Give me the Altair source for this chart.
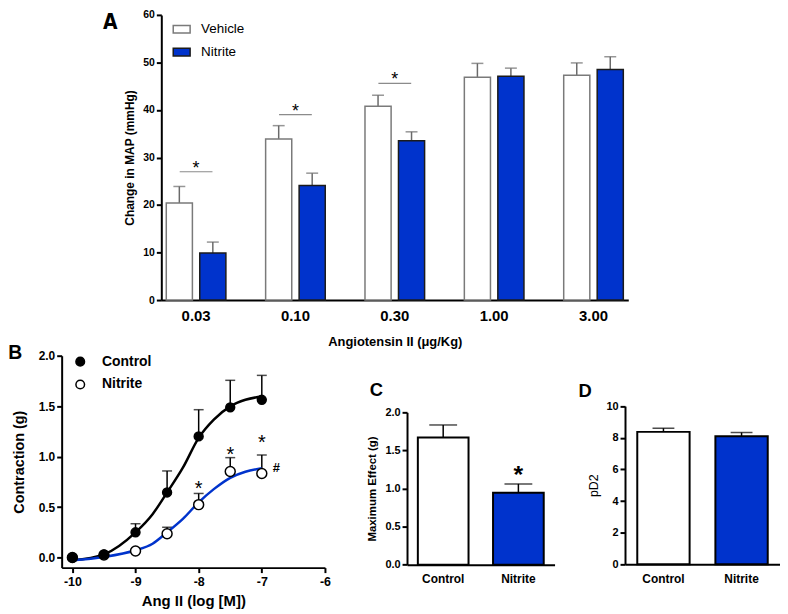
import altair as alt
import pandas as pd

FONT = "Liberation Sans, Arial, Helvetica, sans-serif"
NARROW = "Liberation Sans Narrow, DejaVu Sans Condensed, Liberation Sans, sans-serif"
BLUE = "#0033CC"

# ---------------- Panel A data ----------------
doses = ["0.03", "0.10", "0.30", "1.00", "3.00"]
groups_a = ["Vehicle", "Nitrite"]
veh_map = [20.4, 33.9, 40.8, 46.9, 47.3]
veh_sem = [3.5, 2.8, 2.3, 2.9, 2.6]
nit_map = [9.9, 24.1, 33.5, 47.1, 48.5]
nit_sem = [2.3, 2.6, 1.9, 1.7, 2.7]
sig_doses = ["0.03", "0.10", "0.30"]
sig_level = [27.0, 39.0, 45.6]

# ---------------- Panel B data ----------------
series_b = ["Control", "Nitrite"]
log_dose = [-10, -9.5, -9, -8.5, -8, -7.5, -7]
control_mean = [0.0, 0.03, 0.25, 0.645, 1.20, 1.488, 1.563]
control_sem = [0.0, 0.0, 0.085, 0.213, 0.265, 0.268, 0.242]
nitrite_mean = [0.0, 0.025, 0.065, 0.236, 0.524, 0.852, 0.832]
nitrite_sem = [0.0, 0.0, 0.0, 0.064, 0.111, 0.138, 0.184]
fit_dose = [-10, -9.5, -9, -8.73, -8.5, -8.25, -8, -7.76, -7.5, -7.26, -7]
control_fit = [-0.027, 0.032, 0.25, 0.43, 0.645, 0.89, 1.186, 1.367, 1.498, 1.563, 1.596]
nitrite_fit = [-0.027, 0.006, 0.072, 0.137, 0.25, 0.383, 0.547, 0.678, 0.79, 0.85, 0.885]
star_dose = [-8, -7.5, -7]
star_level = [0.73, 1.06, 1.186]
hash_dose = [-6.77]
hash_level = [0.89]

# ---------------- Panel C / D data ----------------
groups_cd = ["Control", "Nitrite"]
max_mean = [1.669, 0.943]
max_sem = [0.165, 0.117]
max_star_group = ["Nitrite"]
max_star_level = [1.255]
pd2_mean = [8.37, 8.10]
pd2_sem = [0.23, 0.23]


def ax(**kw):
    base = dict(labelFont=FONT, titleFont=FONT, labelFontWeight="bold",
                titleFontWeight="bold", labelColor="black", titleColor="black",
                domainColor="black", domainWidth=2, tickColor="black",
                tickWidth=2, grid=False, labelFlush=False)
    base.update(kw)
    return alt.Axis(**base)


def letter(txt, x, y, size, font=FONT, baseline="alphabetic"):
    return alt.Chart(pd.DataFrame({"t": [txt]})).mark_text(
        align="left", baseline=baseline, fontSize=size, fontWeight="bold",
        font=font, color="black").encode(x=alt.value(x), y=alt.value(y), text="t:N")


# ================= Panel A =================
a_df = pd.DataFrame({
    "dose": doses + doses,
    "group": ["Vehicle"] * 5 + ["Nitrite"] * 5,
    "mean": veh_map + nit_map,
    "sem": veh_sem + nit_sem,
})
sig_df = pd.DataFrame({"dose": sig_doses, "level": sig_level})

A_W, A_H = 570.3, 287
xA_scale = alt.Scale(range=[100.3, 570.3], paddingInner=0.4, paddingOuter=0.05)
xA_axis = ax(title="Angiotensin II (μg/Kg)", labelAngle=0, ticks=False, tickSize=0,
             labelFontSize=15, labelPadding=9, titleFontSize=13, titlePadding=12)
yA_scale = alt.Scale(domain=[0, 60], nice=False)
yA_axis = ax(values=[0, 10, 20, 30, 40, 50, 60], title="Change in MAP (mmHg)",
             offset=-100.3, tickSize=5, labelFontSize=10.5, labelPadding=2,
             titleFontSize=12, titlePadding=6)


def xA():
    return alt.X("dose:N", sort=doses, scale=xA_scale, axis=xA_axis)


def yA(field):
    return alt.Y(field, scale=yA_scale, axis=yA_axis)


xoffA = alt.XOffset("group:N", sort=groups_a,
                    scale=alt.Scale(paddingInner=0.22, paddingOuter=0))

legA = alt.Legend(title=None, orient="none", legendX=111.3, legendY=5,
                  symbolType="M-1,-0.45H1V0.45H-1Z", symbolSize=289,
                  symbolStrokeWidth=1.5, labelFont=FONT, labelFontSize=13.5,
                  labelFontWeight="normal", labelColor="black", labelOffset=10,
                  rowPadding=6, padding=0)

a_bars = alt.Chart(a_df).mark_bar(strokeWidth=1.5).encode(
    x=xA(), xOffset=xoffA, y=yA("mean:Q"),
    fill=alt.Fill("group:N", sort=groups_a,
                  scale=alt.Scale(domain=groups_a, range=["white", BLUE]), legend=legA),
    stroke=alt.Stroke("group:N", sort=groups_a,
                      scale=alt.Scale(domain=groups_a, range=["#7a7a7a", "#1b1b1b"]),
                      legend=legA),
)
a_err = alt.Chart(a_df).transform_calculate(upper="datum.mean + datum.sem").mark_rule(
    color="#6a6a6a", strokeWidth=1.5).encode(
    x=xA(), xOffset=xoffA, y=yA("mean:Q"), y2="upper:Q")
a_cap = alt.Chart(a_df).transform_calculate(upper="datum.mean + datum.sem").mark_tick(
    orient="horizontal", size=12, thickness=1.5, color="#6a6a6a").encode(
    x=xA(), xOffset=xoffA, y=yA("upper:Q"))
a_sig = alt.Chart(sig_df).mark_tick(orient="horizontal", size=33, thickness=1.2,
                                    color="#5a5a5a").encode(x=xA(), y=yA("level:Q"))
a_star = alt.Chart(sig_df).mark_text(text="*", fontSize=18, font=FONT, color="black",
                                     dy=-3).encode(x=xA(), y=yA("level:Q"))

panelA = alt.layer(a_err, a_cap, a_bars, a_sig, a_star,
                   letter("A", 41.6, -3, 21, NARROW, "top")).properties(width=A_W, height=A_H)

# ================= Panel B =================
b_df = pd.DataFrame({
    "logM": log_dose + log_dose,
    "series": ["Control"] * 7 + ["Nitrite"] * 7,
    "mean": control_mean + nitrite_mean,
    "sem": control_sem + nitrite_sem,
})
fit_df = pd.DataFrame({
    "logM": fit_dose + fit_dose,
    "series": ["Control"] * len(fit_dose) + ["Nitrite"] * len(fit_dose),
    "value": control_fit + nitrite_fit,
})
star_df = pd.DataFrame({"logM": star_dose, "level": star_level})
hash_df = pd.DataFrame({"logM": hash_dose, "level": hash_level})

B_W, B_H = 265, 213.3
xB_scale = alt.Scale(domain=[-10.17, -6], nice=False, zero=False)
xB_axis = ax(values=[-10, -9, -8, -7, -6], labelExpr="toString(datum.value)",
             title="Ang II (log [M])", tickSize=5, labelFontSize=12.5, labelPadding=3,
             titleFontSize=15, titlePadding=6)
yB_scale = alt.Scale(domain=[-0.1, 2.0], nice=False, zero=False)
yB_axis = ax(values=[0, 0.5, 1.0, 1.5, 2.0], format=".1f", title="Contraction (g)",
             tickSize=5, labelFontSize=12, labelPadding=2, titleFontSize=14.5,
             titlePadding=12)


def xB():
    return alt.X("logM:Q", scale=xB_scale, axis=xB_axis)


def yB(field):
    return alt.Y(field, scale=yB_scale, axis=yB_axis)


legB = alt.Legend(title=None, orient="none", legendX=11.7, legendY=-1,
                  symbolType="circle", symbolSize=75, symbolStrokeColor="black",
                  symbolStrokeWidth=1.5, labelFont=FONT, labelFontSize=14,
                  labelFontWeight="bold", labelColor="black", labelOffset=15,
                  rowPadding=7, padding=0)
fillB = alt.Fill("series:N", sort=series_b,
                 scale=alt.Scale(domain=series_b, range=["black", "white"]), legend=legB)

b_base = alt.Chart(b_df).transform_filter("datum.sem > 0").transform_calculate(
    upper="datum.mean + datum.sem")
b_err = b_base.mark_rule(color="black", strokeWidth=1.5).encode(
    x=xB(), y=yB("mean:Q"), y2="upper:Q")
b_cap = b_base.mark_tick(orient="horizontal", size=10, thickness=1.5,
                         color="black").encode(x=xB(), y=yB("upper:Q"))
b_fit_ctl = alt.Chart(fit_df).transform_filter("datum.series == 'Control'").mark_line(
    strokeWidth=2.5, interpolate="monotone", color="black").encode(x=xB(), y=yB("value:Q"))
b_fit_nit = alt.Chart(fit_df).transform_filter("datum.series == 'Nitrite'").mark_line(
    strokeWidth=2.5, interpolate="monotone", color=BLUE).encode(x=xB(), y=yB("value:Q"))
b_nit = alt.Chart(b_df).transform_filter("datum.series == 'Nitrite'").mark_point(
    shape="circle", filled=True, size=100, stroke="black", strokeWidth=1.5,
    opacity=1).encode(x=xB(), y=yB("mean:Q"), fill=fillB)
b_ctl = alt.Chart(b_df).transform_filter("datum.series == 'Control'").mark_point(
    shape="circle", filled=True, size=80, stroke="black", strokeWidth=1.5,
    opacity=1).encode(x=xB(), y=yB("mean:Q"), fill=fillB)
b_star = alt.Chart(star_df).mark_text(text="*", fontSize=20, font=FONT, color="black",
                                      dy=5).encode(x=xB(), y=yB("level:Q"))
b_hash = alt.Chart(hash_df).mark_text(text="#", fontSize=13, font=FONT, fontWeight="bold",
                                      color="black").encode(x=xB(), y=yB("level:Q"))

panelB = alt.layer(b_err, b_cap, b_fit_ctl, b_fit_nit, b_nit, b_ctl, b_star, b_hash,
                   letter("B", -53.7, 3, 19.5)).properties(width=B_W, height=B_H)

# ================= Panel C =================
c_df = pd.DataFrame({"group": groups_cd, "mean": max_mean, "sem": max_sem})
c_star = pd.DataFrame({"group": max_star_group, "level": max_star_level})

C_W = 160.6
xC_scale = alt.Scale(range=[12.1, 160.6], paddingInner=0.326, paddingOuter=0.144)
xC_axis = ax(title=None, labelAngle=0, ticks=False, tickSize=0, labelFontSize=12,
             labelPadding=9, offset=-3)
yC_scale = alt.Scale(domain=[0, 2], range=[210.3, 57], nice=False)
yC_axis = ax(values=[0, 0.5, 1.0, 1.5, 2.0], format=".1f", title="Maximum Effect (g)",
             offset=-12.1, tickSize=5, labelFontSize=11, labelPadding=2,
             titleFontSize=11.5, titlePadding=7)


def xC():
    return alt.X("group:N", sort=groups_cd, scale=xC_scale, axis=xC_axis)


def yC(field):
    return alt.Y(field, scale=yC_scale, axis=yC_axis)


fillCD = alt.Fill("group:N", sort=groups_cd,
                  scale=alt.Scale(domain=groups_cd, range=["white", BLUE]), legend=None)

c_base = alt.Chart(c_df).transform_calculate(upper="datum.mean + datum.sem")
c_err = c_base.mark_rule(color="black", strokeWidth=1.5).encode(
    x=xC(), y=yC("mean:Q"), y2="upper:Q")
c_cap = c_base.mark_tick(orient="horizontal", size=28, thickness=1.5,
                         color="black").encode(x=xC(), y=yC("upper:Q"))
c_bars = alt.Chart(c_df).mark_bar(stroke="black", strokeWidth=2).encode(
    x=xC(), y=yC("mean:Q"), fill=fillCD)
c_st = alt.Chart(c_star).mark_text(text="*", fontSize=25, fontWeight="bold", font=FONT,
                                   color="black", dy=6.5).encode(x=xC(), y=yC("level:Q"))

panelC = alt.layer(c_err, c_cap, c_bars, c_st,
                   letter("C", -25.5, 41, 18.5)).properties(width=C_W, height=B_H)

# ================= Panel D =================
d_df = pd.DataFrame({"group": groups_cd, "mean": pd2_mean, "sem": pd2_sem})

D_W = 156
xD_scale = alt.Scale(paddingInner=0.33, paddingOuter=0.157)
xD_axis = ax(title=None, labelAngle=0, ticks=False, tickSize=0, labelFontSize=12,
             labelPadding=9, offset=-3.3)
yD_scale = alt.Scale(domain=[0, 10], range=[210, 50.7], nice=False)
yD_axis = ax(values=[0, 2, 4, 6, 8, 10], format="d", title="pD2", titleFontWeight="normal",
             tickSize=5, labelFontSize=11, labelPadding=2, titleFontSize=12.5,
             titlePadding=5)


def xD():
    return alt.X("group:N", sort=groups_cd, scale=xD_scale, axis=xD_axis)


def yD(field):
    return alt.Y(field, scale=yD_scale, axis=yD_axis)


d_base = alt.Chart(d_df).transform_calculate(upper="datum.mean + datum.sem")
d_err = d_base.mark_rule(color="black", strokeWidth=1.5).encode(
    x=xD(), y=yD("mean:Q"), y2="upper:Q")
d_cap = d_base.mark_tick(orient="horizontal", size=22, thickness=1.5,
                         color="black").encode(x=xD(), y=yD("upper:Q"))
d_bars = alt.Chart(d_df).mark_bar(stroke="black", strokeWidth=2).encode(
    x=xD(), y=yD("mean:Q"), fill=fillCD)

panelD = alt.layer(d_err, d_cap, d_bars,
                   letter("D", -46.7, 42, 18.5)).properties(width=D_W, height=B_H)

# ================= Layout =================
bottom = alt.hconcat(panelB, panelC, panelD, spacing=70.5, bounds="flush").resolve_scale(
    fill="independent", x="independent", y="independent"
).resolve_legend(fill="independent")
chart = alt.vconcat(panelA, bottom, spacing=56, bounds="flush").resolve_scale(
    fill="independent", stroke="independent", x="independent", y="independent"
).resolve_legend(fill="independent", stroke="independent").properties(
    padding=0
).configure_view(stroke=None).configure_text(font=FONT)

chart.save("out.html", embed_options={"renderer": "svg", "actions": False})
